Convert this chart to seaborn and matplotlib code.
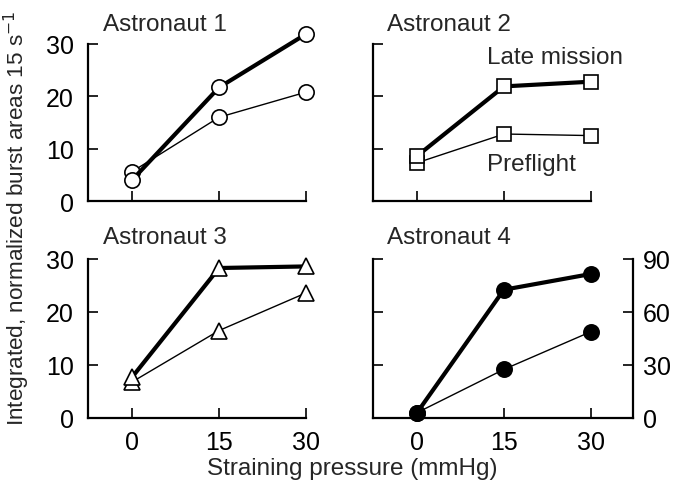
import matplotlib
matplotlib.use("Agg")
import matplotlib.pyplot as plt
import seaborn as sns
import pandas as pd

sns.set_style("ticks")
plt.rcParams['font.family'] = ['Liberation Sans', 'DejaVu Sans']

pressure = [0, 15, 30]
a1_late = [4.0, 21.7, 31.9]
a1_pre = [5.6, 16.0, 20.8]
a2_late = [8.6, 21.9, 22.8]
a2_pre = [7.3, 12.8, 12.5]
a3_late = [7.7, 28.3, 28.6]
a3_pre = [6.8, 16.5, 23.6]
a4_late = [3.0, 72.6, 81.5]
a4_pre = [3.0, 27.5, 48.8]

titles = ["Astronaut 1", "Astronaut 2", "Astronaut 3", "Astronaut 4"]
yticks_left = [0, 10, 20, 30]
yticks_a4 = [0, 30, 60, 90]
xticks = [0, 15, 30]

W, H = 685, 481
fig = plt.figure(figsize=(W / 100, H / 100), dpi=100)

def ax_at(l, r, t, b):
    return fig.add_axes([l / W, (H - b) / H, (r - l) / W, (b - t) / H])

ax1 = ax_at(88, 306, 45, 202)
ax2 = ax_at(373, 591, 45, 202)
ax3 = ax_at(88, 306, 260, 419)
ax4 = ax_at(373, 633, 260, 419)

FS = 18
TFS = 17.5
specs = [
    (ax1, a1_late, a1_pre, 'o', 'white', 11),
    (ax2, a2_late, a2_pre, 's', 'white', 10.5),
    (ax3, a3_late, a3_pre, '^', 'white', 12),
    (ax4, a4_late, a4_pre, 'o', 'black', 11),
]

for i, (ax, late, pre, mk, fc, ms) in enumerate(specs):
    df_pre = pd.DataFrame({"p": pressure, "v": pre})
    df_late = pd.DataFrame({"p": pressure, "v": late})
    sns.lineplot(data=df_pre, x="p", y="v", ax=ax, color="black", linewidth=1.0,
                 marker=mk, markersize=ms, markerfacecolor=fc, markeredgecolor="black",
                 markeredgewidth=1.2, clip_on=False, zorder=3)
    sns.lineplot(data=df_late, x="p", y="v", ax=ax, color="black", linewidth=3.0,
                 marker=mk, markersize=ms, markerfacecolor=fc, markeredgecolor="black",
                 markeredgewidth=1.2, clip_on=False, zorder=4)
    ax.set_xlabel("")
    ax.set_ylabel("")
    ax.set_xticks(xticks)
    if i == 3:
        ax.set_xlim(-7.6, 37.3)
        ax.set_ylim(0, 90)
        ax.set_yticks(yticks_a4)
    else:
        ax.set_xlim(-7.6, 30)
        ax.set_ylim(0, 30)
        ax.set_yticks(yticks_left)
    for s in ['left', 'bottom', 'right', 'top']:
        ax.spines[s].set_linewidth(1.6)
        ax.spines[s].set_color('black')
    ax.spines['top'].set_visible(False)
    ax.spines['right'].set_visible(i == 3)
    ax.tick_params(axis='both', direction='in', length=7, width=1.2, colors='black',
                   labelsize=FS, pad=10)
    ax.tick_params(axis='x', pad=9)
    if i in (0, 1):
        ax.set_xticklabels([])
    if i in (1, 3):
        ax.set_yticklabels([])
    ax.set_facecolor('white')
    tx = 0.069 if i in (0, 2) else (0.063 if i == 1 else 0.053)
    ty = 1.127 if i < 2 else 1.138
    ax.text(tx, ty, titles[i], transform=ax.transAxes, fontsize=TFS,
            ha='left', va='center')

ax4.tick_params(axis='y', right=True, labelright=True, left=True, labelleft=False,
                direction='in', pad=7)
ax4.set_yticklabels([str(v) for v in yticks_a4])

ax2.text(12.0, 27.6, "Late mission", fontsize=TFS, ha='left', va='center')
ax2.text(12.0, 7.1, "Preflight", fontsize=TFS, ha='left', va='center')

fig.text(352 / W, 1 - 469 / H, "Straining pressure (mmHg)", fontsize=TFS,
         ha='center', va='center')
fig.text(17 / W, 1 - 218 / H, "Integrated, normalized burst areas 15 s$^{-1}$",
         fontsize=16.2, rotation=90, ha='center', va='center')

fig.savefig("out.png", dpi=100, facecolor='white')
